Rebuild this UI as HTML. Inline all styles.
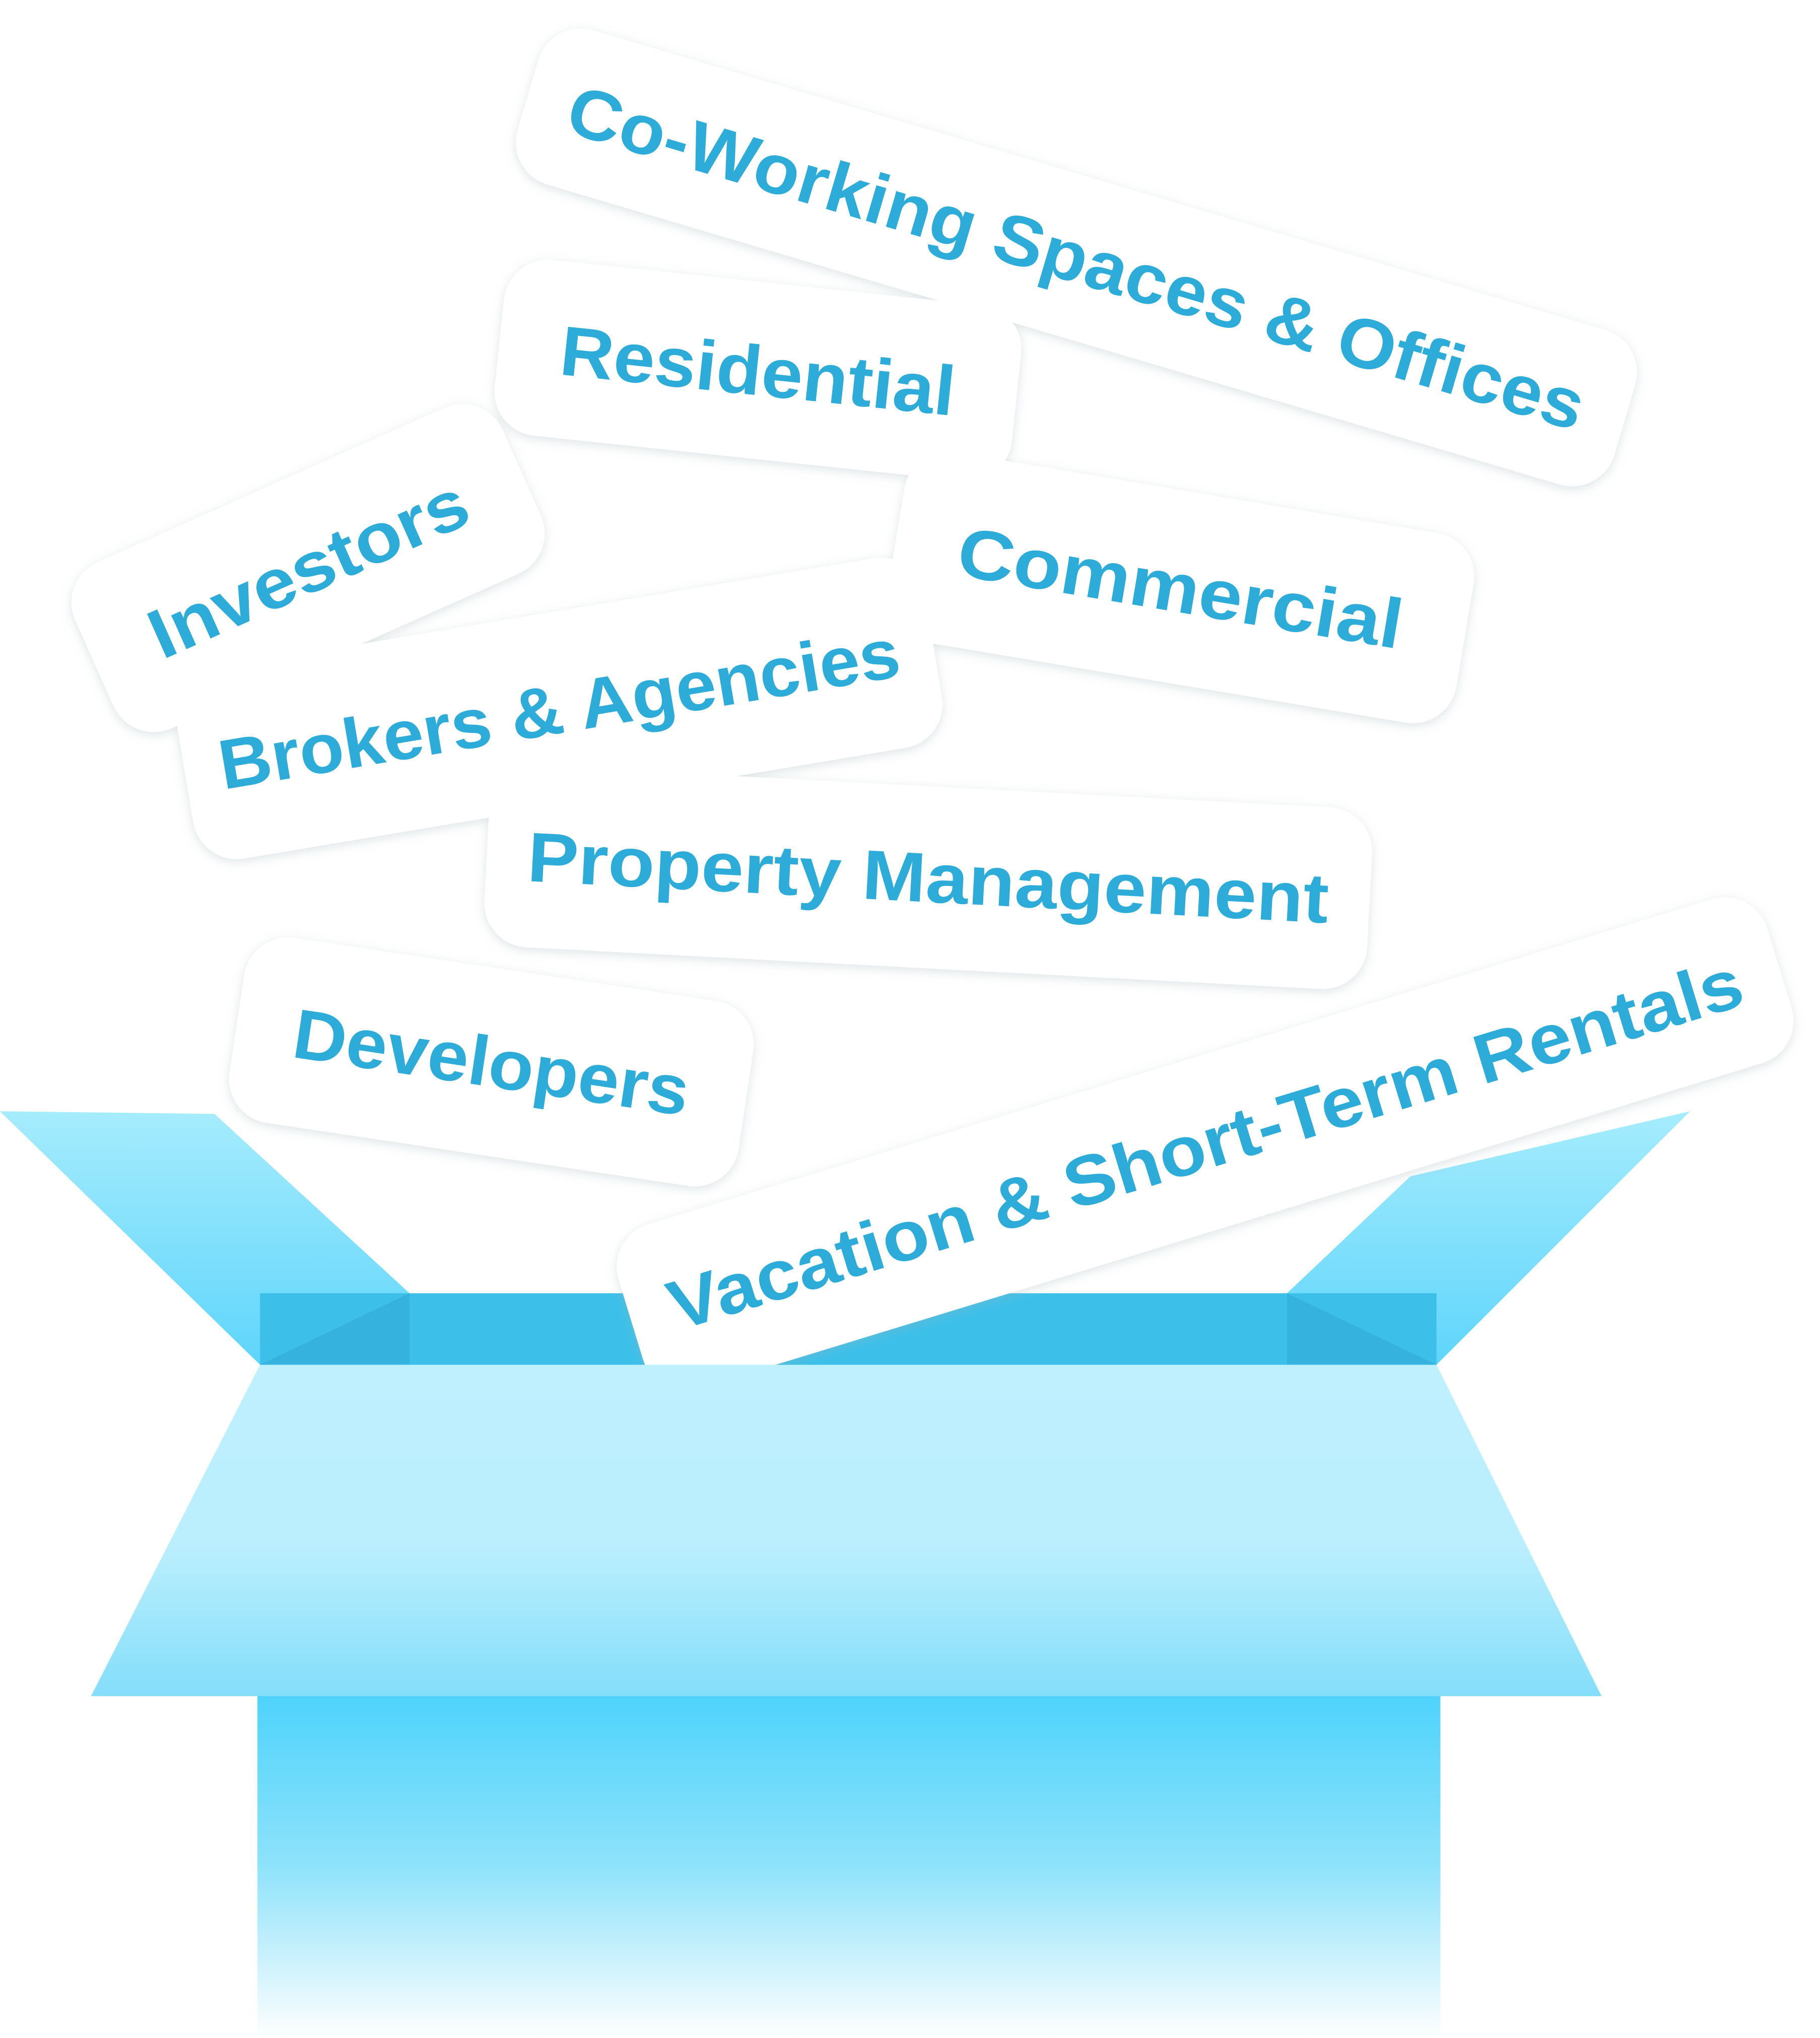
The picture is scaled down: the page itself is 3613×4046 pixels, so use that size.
<!DOCTYPE html>
<html><head><meta charset="utf-8"><style>
html,body{margin:0;padding:0;background:#fff;}
svg{display:block;}
text{font-family:"Liberation Sans",sans-serif;font-weight:bold;fill:#2eacd9;}
</style></head><body>
<svg width="3613" height="4046" viewBox="0 0 1400 1568" preserveAspectRatio="none" xmlns="http://www.w3.org/2000/svg">
<defs>
<linearGradient id="flap" x1="0" y1="0" x2="0" y2="1"><stop offset="0" stop-color="#a6ecfd"/><stop offset="1" stop-color="#5ed5fb"/></linearGradient>
<linearGradient id="lip" x1="0" y1="0" x2="0" y2="1"><stop offset="0" stop-color="#bff0fe"/><stop offset="0.55" stop-color="#bbeffe"/><stop offset="1" stop-color="#84defa"/></linearGradient>
<linearGradient id="body" x1="0" y1="0" x2="0" y2="1"><stop offset="0" stop-color="#4fd3fc"/><stop offset="0.5" stop-color="#8fe3fb"/><stop offset="1" stop-color="#ffffff"/></linearGradient>
<filter id="sh" x="-20%" y="-40%" width="140%" height="180%"><feDropShadow dx="0" dy="2" stdDeviation="4" flood-color="#9fb2b8" flood-opacity="0.35"/></filter>
</defs>
<!-- box back -->
<polygon points="0,855 165,857 315,995 200,1050" fill="url(#flap)"/>
<polygon points="1300,855 1085,905 990,995 1105,1050" fill="url(#flap)"/>
<rect x="200" y="995" width="905" height="56" fill="#3cc0ea"/>
<polygon points="200,1050 315,995 315,1050" fill="#35b3de"/>
<polygon points="1105,1050 990,995 990,1050" fill="#35b3de"/>
<!-- cards -->
<g filter="url(#sh)">
<g transform="translate(828,198) rotate(16.5)"><rect x="-440" y="-62" width="880" height="124" rx="34" fill="#fff"/><text x="0" y="19" text-anchor="middle" font-size="54" textLength="813" lengthAdjust="spacingAndGlyphs">Co-Working Spaces &amp; Offices</text></g>
<g transform="translate(583,285) rotate(6)"><rect x="-200" y="-68" width="400" height="136" rx="34" fill="#fff"/><text x="0" y="19" text-anchor="middle" font-size="54" textLength="305" lengthAdjust="spacingAndGlyphs">Residential</text></g>
<g transform="translate(430,545) rotate(-9.5)"><rect x="-292" y="-74" width="584" height="148" rx="34" fill="#fff"/><text x="0" y="19" text-anchor="middle" font-size="54" textLength="530" lengthAdjust="spacingAndGlyphs">Brokers &amp; Agencies</text></g>
<g transform="translate(237,437) rotate(-24)"><rect x="-180" y="-70" width="360" height="140" rx="34" fill="#fff"/><text x="0" y="19" text-anchor="middle" font-size="54" textLength="263" lengthAdjust="spacingAndGlyphs">Investors</text></g>
<g transform="translate(908,452) rotate(9.5)"><rect x="-222" y="-74" width="444" height="148" rx="34" fill="#fff"/><text x="0" y="19" text-anchor="middle" font-size="54" textLength="346" lengthAdjust="spacingAndGlyphs">Commercial</text></g>
<g transform="translate(714,675) rotate(3)"><rect x="-340" y="-70" width="680" height="140" rx="34" fill="#fff"/><text x="0" y="19" text-anchor="middle" font-size="54" textLength="617" lengthAdjust="spacingAndGlyphs">Property Management</text></g>
<g transform="translate(378,817) rotate(8.5)"><rect x="-198" y="-72" width="396" height="144" rx="34" fill="#fff"/><text x="0" y="19" text-anchor="middle" font-size="54" textLength="307" lengthAdjust="spacingAndGlyphs">Developers</text></g>
<g transform="translate(927,880) rotate(-17)"><rect x="-462" y="-66" width="924" height="132" rx="34" fill="#fff"/><text x="0" y="19" text-anchor="middle" font-size="54" textLength="861" lengthAdjust="spacingAndGlyphs">Vacation &amp; Short-Term Rentals</text></g>
</g>
<!-- box front -->
<polygon points="200,1050 1105,1050 1232,1305 70,1305" fill="url(#lip)"/>
<rect x="198" y="1305" width="910" height="263" fill="url(#body)"/>
</svg>
</body></html>
